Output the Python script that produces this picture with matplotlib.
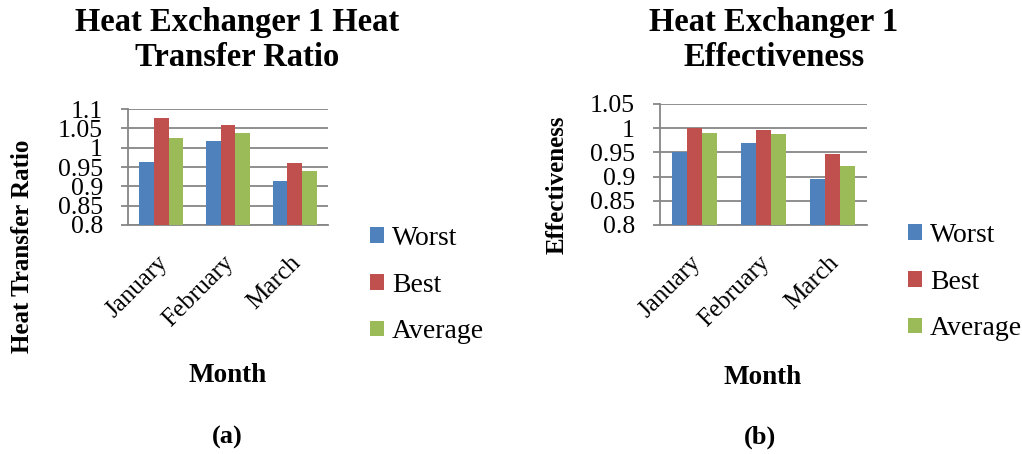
import numpy as np
import matplotlib
matplotlib.use("Agg")
import matplotlib.pyplot as plt
from matplotlib.transforms import ScaledTranslation

plt.rcParams['font.family'] = ['Liberation Serif', 'DejaVu Serif']

months = ["January", "February", "March"]
series = ["Worst", "Best", "Average"]
colors = ["#4F81BD", "#C0504D", "#9BBB59"]

# (a) heat transfer ratio
ratio_worst = [0.964, 1.018, 0.915]
ratio_best = [1.078, 1.059, 0.960]
ratio_avg = [1.026, 1.039, 0.940]
ratio_ticks = [0.8, 0.85, 0.9, 0.95, 1, 1.05, 1.1]

# (b) effectiveness
eff_worst = [0.950, 0.969, 0.895]
eff_best = [1.000, 0.996, 0.946]
eff_avg = [0.990, 0.988, 0.921]
eff_ticks = [0.8, 0.85, 0.9, 0.95, 1, 1.05]

W, H = 1022, 454
fig = plt.figure(figsize=(W / 100, H / 100), dpi=100)


def px_axes(x0, y0, x1, y1):
    return fig.add_axes([x0 / W, 1 - y1 / H, (x1 - x0) / W, (y1 - y0) / H])


def draw(ax, data, ticks, legend_xy):
    x = np.arange(len(months))
    bw = 0.22
    for i, (vals, c) in enumerate(zip(data, colors)):
        ax.bar(x + (i - 1) * bw, np.array(vals) - ticks[0], bw,
               bottom=ticks[0], color=c, label=series[i], zorder=3)
    ax.set_xlim(-0.5, len(months) - 0.5)
    ax.set_ylim(ticks[0], ticks[-1])
    ax.set_yticks(ticks)
    ax.set_yticklabels([f"{t:g}" for t in ticks], fontsize=18.5)
    ax.yaxis.grid(True, color="#868686", lw=1.3, zorder=0)
    ax.set_xticks(x)
    ax.set_xticklabels(months, rotation=45, ha="right", rotation_mode="anchor",
                       fontsize=18)
    ax.tick_params(axis="x", length=0, pad=19)
    ax.tick_params(axis="y", length=5, color="#868686", width=1.3, pad=13)
    shift = ScaledTranslation(-5 / 100, 0, fig.dpi_scale_trans)
    for lab in ax.get_xticklabels():
        lab.set_transform(lab.get_transform() + shift)
    for s in ["top", "right"]:
        ax.spines[s].set_visible(False)
    for s in ["left", "bottom"]:
        ax.spines[s].set_color("#868686")
        ax.spines[s].set_linewidth(1.3)
    ax.legend(loc="upper left", bbox_to_anchor=(legend_xy[0] / W, 1 - legend_xy[1] / H),
              bbox_transform=fig.transFigure, frameon=False,
              fontsize=20, handlelength=0.5, handleheight=0.5, handletextpad=0.3,
              labelspacing=0.78, borderaxespad=0, borderpad=0)


ax1 = px_axes(128, 109, 328, 225)
draw(ax1, [ratio_worst, ratio_best, ratio_avg], ratio_ticks, (370, 226))

ax2 = px_axes(660, 104, 867, 225)
draw(ax2, [eff_worst, eff_best, eff_avg], eff_ticks, (908, 223))


def ftext(x, y, s, size, **kw):
    fig.text(x / W, 1 - y / H, s, ha="center", va="center",
             fontweight="bold", fontsize=size, **kw)


ftext(237, 40, "Heat Exchanger 1 Heat\nTransfer Ratio", 23.5, linespacing=1.15)
ftext(774, 40, "Heat Exchanger 1\nEffectiveness", 23.5, linespacing=1.15)
ftext(23, 246, "Heat Transfer Ratio", 18, rotation=90)
ftext(557, 185, "Effectiveness", 18, rotation=90)
ftext(228, 376, "Month", 19.5)
ftext(763, 377, "Month", 19.5)
ftext(227, 437, "(a)", 19)
ftext(760, 437, "(b)", 19)

fig.savefig("out.png", dpi=100)
